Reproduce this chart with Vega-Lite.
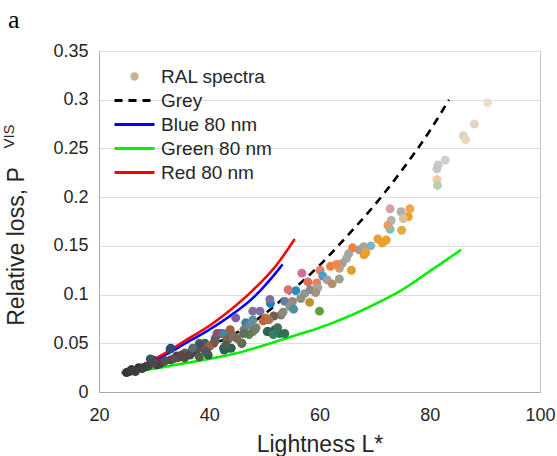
{
  "$schema": "https://vega.github.io/schema/vega-lite/v6.json",
  "width": 441,
  "height": 341,
  "autosize": {"type": "none"},
  "padding": {"left": 99, "top": 51, "right": 17, "bottom": 64},
  "title": {"text": "a", "anchor": "start", "frame": "group", "font": "Liberation Serif", "fontSize": 26, "fontWeight": "normal", "color": "#000000", "dx": -91, "offset": 9},
  "datasets": {
    "ral": [
      {"x": 90.5, "y": 0.297, "c": "#e8dfd0"}, {"x": 88.1, "y": 0.275, "c": "#e2d5c0"}, {"x": 86.1, "y": 0.263, "c": "#d6d3cc"}, {"x": 86.5, "y": 0.259, "c": "#ecd6b8"},
      {"x": 82.8, "y": 0.238, "c": "#cfd0cc"}, {"x": 81.5, "y": 0.233, "c": "#c9c9c9"}, {"x": 81.3, "y": 0.229, "c": "#c6c6c6"}, {"x": 81.3, "y": 0.218, "c": "#f0cca0"}, {"x": 81.4, "y": 0.212, "c": "#b6d2ac"},
      {"x": 72.8, "y": 0.188, "c": "#d8a0a8"}, {"x": 76.4, "y": 0.188, "c": "#f2a450"}, {"x": 74.8, "y": 0.185, "c": "#b0b0ae"}, {"x": 76.1, "y": 0.18, "c": "#f0a020"},
      {"x": 75.2, "y": 0.178, "c": "#d8c0a0"}, {"x": 73.0, "y": 0.176, "c": "#b4b4ac"}, {"x": 72.8, "y": 0.167, "c": "#7ec0c0"}, {"x": 74.9, "y": 0.166, "c": "#dcb040"},
      {"x": 72.4, "y": 0.171, "c": "#e4a060"}, {"x": 72.1, "y": 0.156, "c": "#f0a030"}, {"x": 70.6, "y": 0.157, "c": "#eca030"}, {"x": 71.4, "y": 0.153, "c": "#e8a028"},
      {"x": 69.3, "y": 0.15, "c": "#7cb8c4"}, {"x": 68.0, "y": 0.149, "c": "#a4a4a4"}, {"x": 67.2, "y": 0.146, "c": "#a0a0a0"}, {"x": 66.0, "y": 0.148, "c": "#f08040"},
      {"x": 65.3, "y": 0.142, "c": "#a4a4a4"}, {"x": 68.1, "y": 0.141, "c": "#f09028"}, {"x": 68.4, "y": 0.143, "c": "#eca030"}, {"x": 64.9, "y": 0.137, "c": "#a8a8a8"},
      {"x": 65.8, "y": 0.125, "c": "#e0a030"}, {"x": 64.1, "y": 0.132, "c": "#a0a0a0"}, {"x": 63.6, "y": 0.127, "c": "#c4a080"}, {"x": 62.0, "y": 0.129, "c": "#f08040"},
      {"x": 63.1, "y": 0.131, "c": "#f08848"}, {"x": 60.1, "y": 0.125, "c": "#e08070"}, {"x": 60.6, "y": 0.119, "c": "#40a0c8"}, {"x": 61.4, "y": 0.115, "c": "#a0a0a0"},
      {"x": 62.3, "y": 0.111, "c": "#b49070"}, {"x": 63.6, "y": 0.116, "c": "#a0a090"}, {"x": 59.5, "y": 0.112, "c": "#f08050"}, {"x": 56.8, "y": 0.122, "c": "#d070a0"},
      {"x": 57.9, "y": 0.113, "c": "#e07060"}, {"x": 58.3, "y": 0.105, "c": "#8c8c8c"}, {"x": 59.7, "y": 0.107, "c": "#a4a4a4"}, {"x": 59.3, "y": 0.102, "c": "#a09080"},
      {"x": 57.3, "y": 0.101, "c": "#949494"}, {"x": 55.7, "y": 0.104, "c": "#2090c0"}, {"x": 54.3, "y": 0.105, "c": "#e07070"}, {"x": 56.6, "y": 0.096, "c": "#909080"},
      {"x": 58.2, "y": 0.092, "c": "#c09030"}, {"x": 53.7, "y": 0.093, "c": "#6080a0"}, {"x": 55.1, "y": 0.093, "c": "#a08484"}, {"x": 54.6, "y": 0.088, "c": "#909090"},
      {"x": 55.3, "y": 0.085, "c": "#5090a0"}, {"x": 60.0, "y": 0.083, "c": "#60a040"}, {"x": 51.1, "y": 0.091, "c": "#1080c0"}, {"x": 51.0, "y": 0.095, "c": "#8070a0"},
      {"x": 53.0, "y": 0.079, "c": "#808070"}, {"x": 53.4, "y": 0.082, "c": "#8a8a7a"}, {"x": 51.7, "y": 0.078, "c": "#706050"}, {"x": 50.2, "y": 0.076, "c": "#c07050"},
      {"x": 47.9, "y": 0.083, "c": "#8070a0"}, {"x": 49.2, "y": 0.083, "c": "#8070a0"}, {"x": 44.8, "y": 0.076, "c": "#8060a0"}, {"x": 46.6, "y": 0.071, "c": "#4080a0"},
      {"x": 47.9, "y": 0.074, "c": "#6090a0"}, {"x": 48.5, "y": 0.066, "c": "#808060"}, {"x": 49.8, "y": 0.073, "c": "#c06040"}, {"x": 50.8, "y": 0.074, "c": "#b07050"},
      {"x": 47.4, "y": 0.069, "c": "#6a8a9a"}, {"x": 46.3, "y": 0.064, "c": "#708080"}, {"x": 48.3, "y": 0.064, "c": "#708070"}, {"x": 47.9, "y": 0.062, "c": "#708060"},
      {"x": 47.2, "y": 0.059, "c": "#608050"}, {"x": 46.2, "y": 0.06, "c": "#607060"}, {"x": 50.5, "y": 0.062, "c": "#307060"}, {"x": 50.7, "y": 0.062, "c": "#306050"},
      {"x": 51.7, "y": 0.062, "c": "#407050"}, {"x": 51.9, "y": 0.064, "c": "#306050"}, {"x": 52.8, "y": 0.06, "c": "#307060"}, {"x": 53.7, "y": 0.06, "c": "#307050"},
      {"x": 52.4, "y": 0.066, "c": "#407060"}, {"x": 51.6, "y": 0.059, "c": "#308060"}, {"x": 45.9, "y": 0.05, "c": "#406050"}, {"x": 44.0, "y": 0.045, "c": "#306050"},
      {"x": 42.7, "y": 0.043, "c": "#306050"}, {"x": 43.5, "y": 0.045, "c": "#306050"}, {"x": 42.6, "y": 0.045, "c": "#306050"}, {"x": 43.4, "y": 0.054, "c": "#6a5a4a"},
      {"x": 42.1, "y": 0.06, "c": "#805040"}, {"x": 41.1, "y": 0.055, "c": "#1070a0"}, {"x": 41.4, "y": 0.06, "c": "#905060"}, {"x": 44.0, "y": 0.059, "c": "#606060"},
      {"x": 43.8, "y": 0.064, "c": "#a06040"}, {"x": 42.6, "y": 0.06, "c": "#5080a0"}, {"x": 43.2, "y": 0.054, "c": "#806050"}, {"x": 44.4, "y": 0.057, "c": "#807060"},
      {"x": 45.9, "y": 0.05, "c": "#607050"}, {"x": 40.8, "y": 0.05, "c": "#705040"}, {"x": 39.2, "y": 0.05, "c": "#406060"}, {"x": 40.1, "y": 0.047, "c": "#a06040"},
      {"x": 38.8, "y": 0.045, "c": "#807060"}, {"x": 38.2, "y": 0.05, "c": "#606080"}, {"x": 38.3, "y": 0.048, "c": "#405060"}, {"x": 39.2, "y": 0.043, "c": "#805040"},
      {"x": 37.7, "y": 0.043, "c": "#505060"}, {"x": 36.9, "y": 0.042, "c": "#405060"}, {"x": 35.6, "y": 0.04, "c": "#506070"}, {"x": 36.8, "y": 0.04, "c": "#404050"},
      {"x": 39.8, "y": 0.038, "c": "#306040"}, {"x": 38.2, "y": 0.036, "c": "#506040"}, {"x": 33.0, "y": 0.045, "c": "#204080"}, {"x": 32.9, "y": 0.044, "c": "#304878"},
      {"x": 34.3, "y": 0.035, "c": "#605040"}, {"x": 33.0, "y": 0.033, "c": "#504040"}, {"x": 34.1, "y": 0.037, "c": "#504040"}, {"x": 35.0, "y": 0.038, "c": "#604848"},
      {"x": 31.7, "y": 0.031, "c": "#604040"}, {"x": 29.8, "y": 0.033, "c": "#404060"}, {"x": 29.3, "y": 0.034, "c": "#405070"}, {"x": 30.5, "y": 0.028, "c": "#404040"},
      {"x": 28.5, "y": 0.026, "c": "#403030"}, {"x": 27.2, "y": 0.025, "c": "#303030"}, {"x": 25.9, "y": 0.023, "c": "#404040"}, {"x": 25.0, "y": 0.02, "c": "#303030"},
      {"x": 26.6, "y": 0.021, "c": "#404040"}, {"x": 27.8, "y": 0.024, "c": "#383838"}, {"x": 29.0, "y": 0.027, "c": "#454545"}, {"x": 31.0, "y": 0.029, "c": "#4a4040"},
      {"x": 32.0, "y": 0.032, "c": "#505050"}, {"x": 35.5, "y": 0.035, "c": "#5a4a40"}, {"x": 36.5, "y": 0.038, "c": "#504848"}, {"x": 25.5, "y": 0.021, "c": "#353535"},
      {"x": 26.0, "y": 0.022, "c": "#3a3a3a"}, {"x": 28.0, "y": 0.025, "c": "#404040"}, {"x": 30.0, "y": 0.03, "c": "#4a4a4a"}, {"x": 33.5, "y": 0.034, "c": "#5a5050"},
      {"x": 37.0, "y": 0.045, "c": "#5a6a70"}, {"x": 41.0, "y": 0.052, "c": "#6a5a50"}, {"x": 43.0, "y": 0.048, "c": "#4a6050"}, {"x": 45.0, "y": 0.055, "c": "#7a6a5a"},
      {"x": 39.5, "y": 0.041, "c": "#4a5a5a"}
    ],
    "curves": [
      {"s": "Grey", "x": 25, "y": 0.02}, {"s": "Grey", "x": 30, "y": 0.028}, {"s": "Grey", "x": 35, "y": 0.036}, {"s": "Grey", "x": 40, "y": 0.047},
      {"s": "Grey", "x": 45, "y": 0.061}, {"s": "Grey", "x": 50, "y": 0.08}, {"s": "Grey", "x": 55, "y": 0.104}, {"s": "Grey", "x": 60, "y": 0.13},
      {"s": "Grey", "x": 65, "y": 0.16}, {"s": "Grey", "x": 70, "y": 0.192}, {"s": "Grey", "x": 75, "y": 0.228}, {"s": "Grey", "x": 80, "y": 0.268}, {"s": "Grey", "x": 83.5, "y": 0.3},
      {"s": "Blue 80 nm", "x": 24.5, "y": 0.019}, {"s": "Blue 80 nm", "x": 28, "y": 0.027}, {"s": "Blue 80 nm", "x": 32, "y": 0.038}, {"s": "Blue 80 nm", "x": 36, "y": 0.051},
      {"s": "Blue 80 nm", "x": 40, "y": 0.064}, {"s": "Blue 80 nm", "x": 44, "y": 0.079}, {"s": "Blue 80 nm", "x": 48, "y": 0.097}, {"s": "Blue 80 nm", "x": 51, "y": 0.115}, {"s": "Blue 80 nm", "x": 53.3, "y": 0.131},
      {"s": "Green 80 nm", "x": 24, "y": 0.0195}, {"s": "Green 80 nm", "x": 30, "y": 0.024}, {"s": "Green 80 nm", "x": 35, "y": 0.029}, {"s": "Green 80 nm", "x": 40, "y": 0.034},
      {"s": "Green 80 nm", "x": 45, "y": 0.04}, {"s": "Green 80 nm", "x": 50, "y": 0.048}, {"s": "Green 80 nm", "x": 55, "y": 0.057}, {"s": "Green 80 nm", "x": 60, "y": 0.066},
      {"s": "Green 80 nm", "x": 65, "y": 0.077}, {"s": "Green 80 nm", "x": 70, "y": 0.09}, {"s": "Green 80 nm", "x": 75, "y": 0.105}, {"s": "Green 80 nm", "x": 80, "y": 0.124}, {"s": "Green 80 nm", "x": 85.7, "y": 0.146},
      {"s": "Red 80 nm", "x": 24.5, "y": 0.019}, {"s": "Red 80 nm", "x": 28, "y": 0.028}, {"s": "Red 80 nm", "x": 32, "y": 0.04}, {"s": "Red 80 nm", "x": 36, "y": 0.054},
      {"s": "Red 80 nm", "x": 40, "y": 0.068}, {"s": "Red 80 nm", "x": 44, "y": 0.085}, {"s": "Red 80 nm", "x": 48, "y": 0.105}, {"s": "Red 80 nm", "x": 52, "y": 0.129}, {"s": "Red 80 nm", "x": 55.5, "y": 0.157}
    ]
  },
  "layer": [
    {
      "data": {"name": "curves"},
      "mark": {"type": "line", "strokeWidth": 2.6, "interpolate": "monotone"},
      "encoding": {
        "x": {"field": "x", "type": "quantitative", "scale": {"domain": [20, 100], "nice": false, "zero": false},
              "axis": {"orient": "top", "title": "VIS", "labels": false, "ticks": false, "domain": false, "grid": false, "titleFontSize": 15, "titleX": -83, "titleY": 85, "titleAngle": 270, "titleBaseline": "bottom", "titleAlign": "center"}},
        "y": {"field": "y", "type": "quantitative", "scale": {"domain": [0, 0.35], "nice": false},
              "axis": {"title": "Relative loss, P", "values": [0, 0.05, 0.1, 0.15, 0.2, 0.25, 0.3, 0.35], "format": "~g", "labelPadding": 11, "labelFlush": false, "titleX": -71, "titleY": 195, "titleAngle": 270, "titleBaseline": "bottom", "titleAlign": "center"}},
        "color": {"field": "s", "type": "nominal",
                  "scale": {"domain": ["RAL spectra", "Grey", "Blue 80 nm", "Green 80 nm", "Red 80 nm"], "range": ["#c8b48a", "#000000", "#0000ff", "#00ee00", "#ff0000"]},
                  "legend": {"title": null, "orient": "none", "legendX": 26, "legendY": 16, "padding": 0, "labelFontSize": 19, "labelColor": "#262626", "labelOffset": 17, "rowPadding": 4, "symbolSize": 1600, "symbolStrokeWidth": 3,
                    "encode": {"symbols": {"update": {
                      "shape": {"signal": "datum.value === 'RAL spectra' ? 'circle' : 'stroke'"},
                      "fill": {"signal": "datum.value === 'RAL spectra' ? '#c8b48a' : 'transparent'"},
                      "size": {"signal": "datum.value === 'RAL spectra' ? 70 : 1600"},
                      "strokeWidth": {"signal": "datum.value === 'RAL spectra' ? 0 : 3"}
                    }}}}},
        "strokeDash": {"field": "s", "type": "nominal",
                  "scale": {"domain": ["RAL spectra", "Grey", "Blue 80 nm", "Green 80 nm", "Red 80 nm"], "range": [[1, 0], [8, 6], [1, 0], [1, 0], [1, 0]]},
                  "legend": {"title": null}}
      }
    },
    {
      "data": {"name": "ral"},
      "mark": {"type": "circle", "size": 80, "opacity": 1},
      "encoding": {
        "x": {"field": "x", "type": "quantitative",
              "axis": {"orient": "bottom", "title": "Lightness L*", "values": [20, 40, 60, 80, 100], "labelPadding": 14, "labelFlush": false, "titlePadding": 9}},
        "y": {"field": "y", "type": "quantitative"},
        "fill": {"field": "c", "type": "nominal", "scale": null}
      }
    }
  ],
  "resolve": {"axis": {"x": "independent"}},
  "config": {
    "font": "Liberation Sans",
    "view": {"stroke": "#c4c4c4", "strokeWidth": 1},
    "axis": {"grid": true, "gridColor": "#dedede", "gridOpacity": 1, "domainColor": "#a8a8a8", "ticks": false, "labelFont": "Liberation Sans", "labelFontSize": 18, "labelColor": "#262626", "titleFont": "Liberation Sans", "titleFontSize": 23, "titleFontWeight": "normal", "titleColor": "#262626"},
    "legend": {"labelFont": "Liberation Sans"}
  }
}
